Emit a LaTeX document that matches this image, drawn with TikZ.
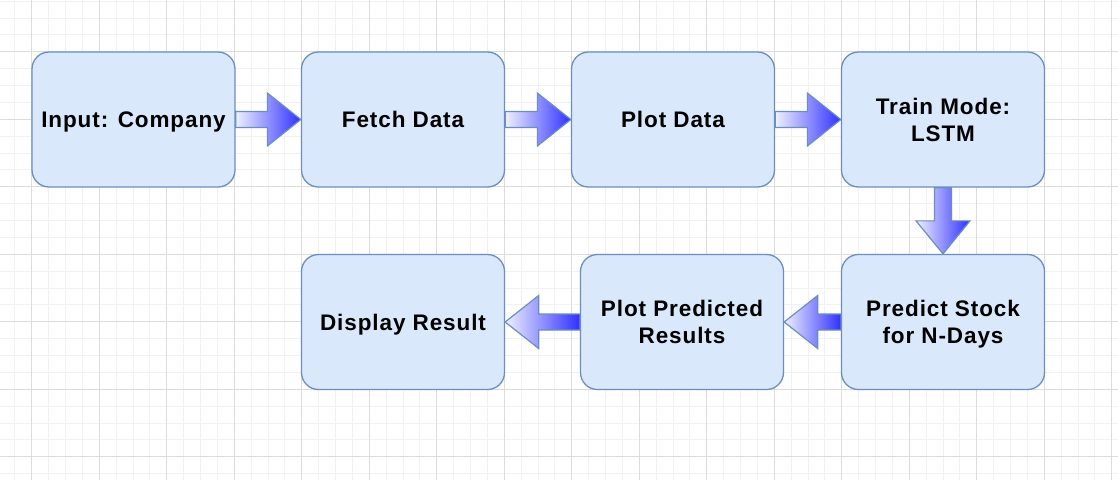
\documentclass[tikz,border=0pt]{standalone}
\usepackage{fontspec}
\setmainfont{Liberation Sans}
\newfontfamily\boxfont[LetterSpace=4]{Liberation Sans}
\usetikzlibrary{calc}
\definecolor{boxfill}{HTML}{DAE8FC}
\definecolor{boxline}{HTML}{6C8EBF}
\definecolor{gmaj}{HTML}{DCDCDC}
\definecolor{gmin}{HTML}{F1F1F1}
\definecolor{arrlight}{HTML}{EEF0FF}
\definecolor{arrdark}{HTML}{3030FF}
\tikzset{
  stepbox/.style={draw=boxline, fill=boxfill, line width=1.3pt, rounded corners=17pt,
    minimum width=203pt, minimum height=135pt, inner sep=0pt, align=center, text depth=-2pt,
    font=\boxfont\fontsize{22.5}{27.3}\selectfont\bfseries},
  blockarrow/.style={draw=boxline, line width=1.2pt, left color=arrlight, right color=arrdark, line join=miter},
}
\newcommand\rarrow[2]{%
  \path[blockarrow] ($(#1.east)+(0,-8)$) -- ($(#2.west)+(-33.5,-8)$) -- ($(#2.west)+(-33.5,-26.5)$) -- (#2.west)
   -- ($(#2.west)+(-33.5,26.5)$) -- ($(#2.west)+(-33.5,8)$) -- ($(#1.east)+(0,8)$) -- cycle;}
\newcommand\larrow[2]{%
  \path[blockarrow] ($(#1.west)+(0,-8)$) -- ($(#2.east)+(33.5,-8)$) -- ($(#2.east)+(33.5,-26.5)$) -- (#2.east)
   -- ($(#2.east)+(33.5,26.5)$) -- ($(#2.east)+(33.5,8)$) -- ($(#1.west)+(0,8)$) -- cycle;}
\newcommand\darrow[2]{%
  \path[blockarrow] ($(#1.south)+(-8.5,0)$) -- ($(#2.north)+(-8.5,-33)$) -- ($(#2.north)+(-27,-33)$) -- (#2.north)
   -- ($(#2.north)+(27,-33)$) -- ($(#2.north)+(8.5,-33)$) -- ($(#1.south)+(8.5,0)$) -- cycle;}
\begin{document}
\begin{tikzpicture}[x=1pt,y=-1pt]
\useasboundingbox (0,0) rectangle (1118,480);
\fill[white] (0,0) rectangle (1118,480);
% minor grid
\foreach \i in {-1,...,64} {
  \draw[gmin, line width=0.8pt] ({31.7+16.875*\i},0) -- ({31.7+16.875*\i},480);
}
\foreach \j in {-3,...,25} {
  \draw[gmin, line width=0.8pt] (0,{51.7+16.875*\j}) -- (1118,{51.7+16.875*\j});
}
% major grid
\foreach \i in {0,...,16} {
  \draw[gmaj, line width=0.8pt] ({31.7+67.5*\i},0) -- ({31.7+67.5*\i},480);
}
\foreach \j in {0,...,6} {
  \draw[gmaj, line width=0.8pt] (0,{51.7+67.5*\j}) -- (1118,{51.7+67.5*\j});
}
% boxes
\node[stepbox] (input) at (133.5,119.5) {Input: Company};
\node[stepbox] (fetch) at (403,119.5) {Fetch Data};
\node[stepbox] (plot) at (673,119.5) {Plot Data};
\node[stepbox] (train) at (943,119.5) {Train Mode:\\LSTM};
\node[stepbox] (predict) at (943,322) {Predict Stock\\for N-Days};
\node[stepbox] (plotpred) at (682,322) {Plot Predicted\\Results};
\node[stepbox] (display) at (403,322) {Display Result};
% arrows
\rarrow{input}{fetch}
\rarrow{fetch}{plot}
\rarrow{plot}{train}
\darrow{train}{predict}
\larrow{predict}{plotpred}
\larrow{plotpred}{display}
\end{tikzpicture}
\end{document}
